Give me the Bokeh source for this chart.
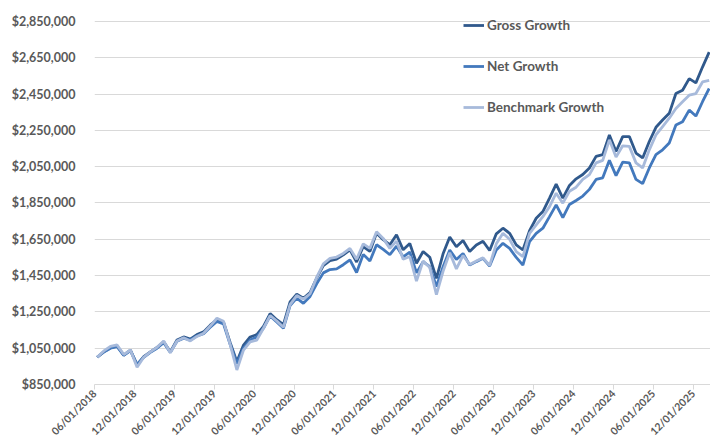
import math
from bokeh.plotting import figure
from bokeh.models import Range1d, FixedTicker, NumeralTickFormatter, Legend, LegendItem, ColumnDataSource
from bokeh.embed import file_html
from bokeh.resources import INLINE

# Monthly growth of $1,000,000 (values in thousands of dollars), 06/2018 .. 02/2026
gross_k = [1000, 1030, 1052, 1062, 1012, 1040, 958, 1003, 1030, 1054, 1085, 1030, 1095, 1112, 1100, 1125, 1140, 1177, 1208, 1193, 1080, 975, 1067, 1112, 1125,
           1170, 1241, 1207, 1180, 1305, 1348, 1325, 1357, 1437, 1505, 1532, 1541, 1564, 1592, 1525, 1610, 1583, 1684, 1648, 1620, 1675, 1592, 1627, 1518,
           1583, 1551, 1435, 1570, 1663, 1609, 1643, 1583, 1619, 1639, 1588, 1680, 1711, 1683, 1619, 1591, 1698, 1766, 1803, 1877, 1954, 1877, 1947, 1983,
           2007, 2043, 2107, 2116, 2225, 2134, 2216, 2216, 2125, 2098, 2189, 2267, 2307, 2344, 2453, 2471, 2535, 2512, 2599, 2681]
net_k = [1000, 1029, 1050, 1058, 1010, 1037, 960, 1000, 1027, 1050, 1080, 1027, 1088, 1105, 1095, 1117, 1130, 1165, 1198, 1183, 1070, 965, 1050, 1095, 1112,
         1160, 1228, 1195, 1160, 1285, 1326, 1297, 1335, 1405, 1465, 1483, 1487, 1510, 1537, 1467, 1567, 1530, 1620, 1594, 1565, 1612, 1553, 1580, 1465,
         1527, 1499, 1390, 1499, 1591, 1539, 1572, 1508, 1527, 1545, 1503, 1591, 1628, 1600, 1550, 1508, 1637, 1683, 1711, 1775, 1840, 1770, 1842, 1864,
         1888, 1925, 1980, 1989, 2085, 2001, 2075, 2071, 1980, 1957, 2043, 2116, 2143, 2180, 2280, 2298, 2362, 2329, 2408, 2481]
bench_k = [1000, 1035, 1060, 1068, 1015, 1040, 945, 1000, 1030, 1055, 1090, 1025, 1090, 1108, 1090, 1115, 1132, 1172, 1215, 1198, 1070, 930, 1040, 1085, 1095,
           1160, 1230, 1200, 1165, 1290, 1340, 1320, 1350, 1440, 1515, 1545, 1552, 1572, 1600, 1540, 1625, 1600, 1692, 1655, 1600, 1640, 1540, 1555, 1420,
           1530, 1494, 1345, 1474, 1576, 1487, 1561, 1511, 1530, 1548, 1506, 1625, 1683, 1650, 1582, 1554, 1683, 1729, 1775, 1830, 1904, 1849, 1915, 1937,
           1980, 2007, 2071, 2085, 2198, 2103, 2165, 2162, 2071, 2043, 2143, 2225, 2271, 2317, 2371, 2408, 2444, 2453, 2517, 2526]

tick_labels = ["06/01/2018", "12/01/2018", "06/01/2019", "12/01/2019", "06/01/2020", "12/01/2020",
               "06/01/2021", "12/01/2021", "06/01/2022", "12/01/2022", "06/01/2023", "12/01/2023",
               "06/01/2024", "12/01/2024", "06/01/2025", "12/01/2025"]
series_names = ["Gross Growth", "Net Growth", "Benchmark Growth"]
y_ticks = [850000, 1050000, 1250000, 1450000, 1650000, 1850000, 2050000, 2250000, 2450000, 2650000, 2850000]

months = list(range(len(gross_k)))
src = ColumnDataSource(dict(
    m=months,
    gross=[v * 1000 for v in gross_k],
    net=[v * 1000 for v in net_k],
    bench=[v * 1000 for v in bench_k],
))

TEXT = "#595959"
GRID = "#D9D9D9"
FONT = "Lato"

p = figure(width=710, height=445, output_backend="svg", toolbar_location=None,
           x_range=Range1d(-0.4, 92.2), y_range=Range1d(850000, 2910600),
           min_border_left=94, min_border_right=0, min_border_top=10, min_border_bottom=61)
p.outline_line_color = None
p.background_fill_color = "white"
p.border_fill_color = "white"

r_g = p.line("m", "gross", source=src, line_color="#30598C", line_width=2.8)
r_n = p.line("m", "net", source=src, line_color="#4379BD", line_width=2.8)
r_b = p.line("m", "bench", source=src, line_color="#A7BADB", line_width=2.8)

# axes
xt = [round(6 * k - 0.4, 1) for k in range(len(tick_labels))]
p.xaxis.ticker = FixedTicker(ticks=xt)
p.xaxis.major_label_overrides = {t: lab for t, lab in zip(xt, tick_labels)}
p.xaxis.major_label_orientation = math.pi / 4
p.xaxis.axis_line_color = GRID
p.xaxis.major_tick_line_color = GRID
p.xaxis.major_tick_out = 5
p.xaxis.major_tick_in = 0
p.xaxis.minor_tick_line_color = None
p.xaxis.major_label_text_font = FONT
p.xaxis.major_label_text_font_style = "bold"
p.xaxis.major_label_text_font_size = "10.5px"
p.xaxis.major_label_text_color = TEXT
p.xaxis.major_label_standoff = 2

p.yaxis.ticker = FixedTicker(ticks=y_ticks)
p.yaxis.formatter = NumeralTickFormatter(format="$0,0")
p.yaxis.axis_line_color = None
p.yaxis.major_tick_line_color = None
p.yaxis.minor_tick_line_color = None
p.yaxis.major_label_text_font = FONT
p.yaxis.major_label_text_font_style = "bold"
p.yaxis.major_label_text_font_size = "12.5px"
p.yaxis.major_label_text_color = TEXT
p.yaxis.major_label_standoff = 13

p.xgrid.grid_line_color = None
p.ygrid.grid_line_color = GRID
p.ygrid.ticker = FixedTicker(ticks=y_ticks)

legend = Legend(items=[LegendItem(label=series_names[0], renderers=[r_g]),
                       LegendItem(label=series_names[1], renderers=[r_n]),
                       LegendItem(label=series_names[2], renderers=[r_b])],
                location=(369, 269), orientation="vertical")
legend.background_fill_alpha = 0
legend.border_line_color = None
legend.padding = 0
legend.margin = 0
legend.spacing = 25
legend.glyph_width = 21
legend.glyph_height = 16
legend.label_height = 16
legend.label_standoff = 3
legend.label_text_font = FONT
legend.label_text_font_style = "bold"
legend.label_text_font_size = "13.5px"
legend.label_text_color = TEXT
p.add_layout(legend, "center")

open("out.html", "w").write(file_html(p, INLINE))
